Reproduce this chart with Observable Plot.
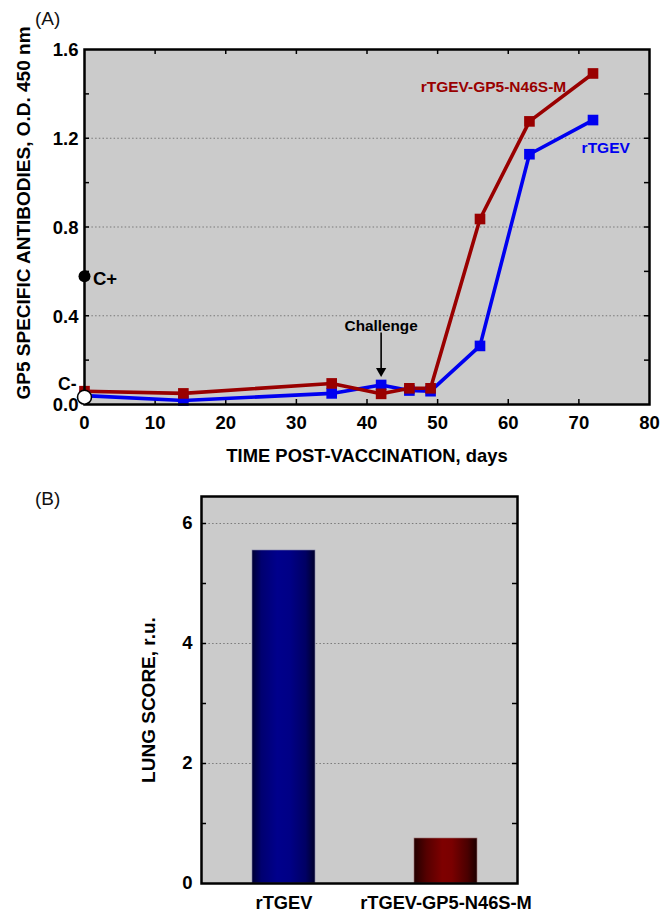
<!DOCTYPE html>
<html><head><meta charset="utf-8">
<script src="https://cdn.jsdelivr.net/npm/d3@7"></script>
<script src="https://cdn.jsdelivr.net/npm/@observablehq/plot@0.6"></script>
<style>
body{margin:0;background:#fff;font-family:"Liberation Sans",Arial,sans-serif;}
#wrap{position:relative;width:670px;height:913px;overflow:hidden;}
.panel{position:absolute;left:0;}
.tag{position:absolute;font-size:19px;color:#111;line-height:22px;}
</style></head><body>
<div id="wrap">
<div id="a" class="panel" style="top:0"></div>
<div id="b" class="panel" style="top:480px"></div>
<div class="tag" style="left:35px;top:8px">(A)</div>
<div class="tag" style="left:35px;top:488px">(B)</div>
</div>
<script>
// ---- Panel A data ----
const days = [0, 14, 35, 42, 46, 49, 56, 63, 72];
const rtgevOD = [0.04, 0.018, 0.05, 0.088, 0.063, 0.06, 0.264, 1.128, 1.282];
const mutantOD = [0.06, 0.05, 0.095, 0.048, 0.073, 0.073, 0.836, 1.276, 1.492];
const seriesNames = ["rTGEV", "rTGEV-GP5-N46S-M"];
const seriesColors = ["#0000f0", "#990000"];
const controlNames = ["C+", "C-"];
const controlOD = [0.578, 0.033];
const xTicksA = [0, 10, 20, 30, 40, 50, 60, 70, 80];
const yTicksA = [0, 0.4, 0.8, 1.2, 1.6];
const yMinorA = [0.2, 0.4, 0.6, 0.8, 1.0, 1.2, 1.4];
const gridA = [0.4, 0.8, 1.2];
const challengeDay = 42;
const xTitleA = "TIME POST-VACCINATION, days";
const yTitleA = "GP5 SPECIFIC ANTIBODIES, O.D. 450 nm";

// ---- Panel B data ----
const barNames = ["rTGEV", "rTGEV-GP5-N46S-M"];
const lungScore = [5.55, 0.75];
const yTicksB = [0, 2, 4, 6];
const yMinorB = [1, 2, 3, 4, 5, 6];
const gridB = [2, 4, 6];
const yTitleB = "LUNG SCORE, r.u.";

const FONT = '"Liberation Sans", Arial, Helvetica, sans-serif';
const W = 670;

// ---------- Panel A ----------
const HA = 480, mA = {top: 49, right: 21, bottom: 76, left: 84};
const fwA = W - mA.left - mA.right, fhA = HA - mA.top - mA.bottom;
const rtgevData = days.map((d, i) => ({day: d, od: rtgevOD[i]}));
const mutantData = days.map((d, i) => ({day: d, od: mutantOD[i]}));

const plotA = Plot.plot({
  width: W, height: HA,
  marginTop: mA.top, marginRight: mA.right, marginBottom: mA.bottom, marginLeft: mA.left,
  style: {fontFamily: FONT, fontWeight: "bold", fontSize: "18.5px", color: "black", background: "transparent", overflow: "visible"},
  x: {domain: [0, 80]},
  y: {domain: [0, 1.6]},
  marks: [
    Plot.frame({fill: "#cbcbcb"}),
    Plot.ruleY(gridA, {y: d => d, stroke: "#7a7a7a", strokeWidth: 1.2, strokeDasharray: "1.5,2.2"}),
    Plot.ruleY(yMinorA, {y: d => d, insetRight: fwA - 5, stroke: "black", strokeWidth: 1.5}),
    Plot.ruleY(yMinorA, {y: d => d, insetLeft: fwA - 5, stroke: "black", strokeWidth: 1.5}),
    Plot.ruleX(xTicksA.slice(1, -1), {x: d => d, insetTop: fhA - 5, stroke: "black", strokeWidth: 1.5}),
    Plot.ruleX(xTicksA.slice(1, -1), {x: d => d, insetBottom: fhA - 5, stroke: "black", strokeWidth: 1.5}),
    Plot.axisX({ticks: xTicksA, tickSize: 0, tickPadding: 11, label: null, fontSize: 18.5}),
    Plot.axisY({ticks: yTicksA, tickSize: 0, tickPadding: 6, tickFormat: d => d.toFixed(1), label: null, fontSize: 18.5, dy: 1}),
    Plot.text([xTitleA], {frameAnchor: "bottom", dy: 57, fontSize: 18.4, fontWeight: "bold"}),
    Plot.text([yTitleA], {frameAnchor: "left", textAnchor: "middle", rotate: -90, dx: -61, dy: -14, fontSize: 19, fontWeight: "bold"}),
    // challenge annotation
    Plot.text([challengeDay], {x: d => d, y: 0.352, text: () => "Challenge", fontSize: 15.3, fontWeight: "bold"}),
    Plot.ruleX([challengeDay], {x: d => d, y1: 0.322, y2: 0.16, stroke: "black", strokeWidth: 1.6}),
    Plot.dot([challengeDay], {x: d => d, y: 0.151, symbol: "triangle", rotate: 180, r: 3.8, fill: "black"}),
    // series
    Plot.line(rtgevData, {x: "day", y: "od", stroke: seriesColors[0], strokeWidth: 3.6}),
    Plot.line(mutantData, {x: "day", y: "od", stroke: seriesColors[1], strokeWidth: 3.6}),
    Plot.dot(rtgevData, {x: "day", y: "od", symbol: "square", r: 6, fill: seriesColors[0]}),
    Plot.dot(mutantData, {x: "day", y: "od", symbol: "square", r: 6, fill: seriesColors[1]}),
    Plot.text([seriesNames[1]], {x: 57.9, y: 1.431, fill: seriesColors[1], fontSize: 15.5, fontWeight: "bold"}),
    Plot.text([seriesNames[0]], {x: 73.8, y: 1.156, fill: seriesColors[0], fontSize: 15.5, fontWeight: "bold"}),
    Plot.frame({stroke: "black", strokeWidth: 2.5}),
    // controls
    Plot.dot([controlOD[0]], {x: 0, y: d => d, r: 6, fill: "black"}),
    Plot.dot([controlOD[1]], {x: 0, y: d => d, r: 7, fill: "white", stroke: "black", strokeWidth: 1.6}),
    Plot.text([controlNames[0]], {x: 0, y: 0.567, dx: 8.5, textAnchor: "start", fontSize: 18.5, fontWeight: "bold"}),
    Plot.text([controlNames[1]], {x: 0, y: 0.09, dx: -8, textAnchor: "end", fontSize: 17.5, fontWeight: "bold"})
  ]
});
document.getElementById("a").appendChild(plotA);

// ---------- Panel B ----------
const HB = 433, mB = {top: 16, right: 153, bottom: 30, left: 201};
const fwB = W - mB.left - mB.right;
const bars = barNames.map((n, i) => ({name: n, score: lungScore[i]}));

const plotB = Plot.plot({
  width: W, height: HB,
  marginTop: mB.top, marginRight: mB.right, marginBottom: mB.bottom, marginLeft: mB.left,
  style: {fontFamily: FONT, fontWeight: "bold", fontSize: "18.5px", color: "black", background: "transparent", overflow: "visible"},
  x: {domain: barNames, paddingInner: 0.61, paddingOuter: 0.28, align: 0.56},
  y: {domain: [0, 6.45]},
  marks: [
    Plot.frame({fill: "#cbcbcb"}),
    Plot.ruleY(gridB, {y: d => d, stroke: "#7a7a7a", strokeWidth: 1.2, strokeDasharray: "1.5,2.2"}),
    Plot.ruleY(yMinorB, {y: d => d, insetRight: fwB - 5, stroke: "black", strokeWidth: 1.5}),
    Plot.ruleY(yMinorB, {y: d => d, insetLeft: fwB - 5, stroke: "black", strokeWidth: 1.5}),
    Plot.barY(bars.filter(d => d.name === barNames[0]), {x: "name", y: "score", fill: "url(#gradBlue)", stroke: "#8080a8", strokeWidth: 0.6}),
    Plot.barY(bars.filter(d => d.name === barNames[1]), {x: "name", y: "score", fill: "url(#gradRed)", stroke: "#a07070", strokeWidth: 0.6}),
    Plot.axisX({tickSize: 0, tickPadding: 12, label: null, fontSize: 18.3}),
    Plot.axisY({ticks: yTicksB, tickSize: 0, tickPadding: 9, tickFormat: d => String(d), label: null, fontSize: 18.5}),
    Plot.text([yTitleB], {frameAnchor: "left", textAnchor: "middle", rotate: -90, dx: -53, dy: 10, fontSize: 19, fontWeight: "bold"}),
    Plot.frame({stroke: "black", strokeWidth: 2.5})
  ]
});
// gradients for the bars
(function addGradients(svg) {
  const NS = "http://www.w3.org/2000/svg";
  const defs = document.createElementNS(NS, "defs");
  const grads = {
    gradBlue: [[0, "#000034"], [0.15, "#000070"], [0.4, "#00008c"], [0.6, "#000086"], [0.85, "#000064"], [1, "#00002a"]],
    gradRed: [[0, "#220000"], [0.2, "#550000"], [0.45, "#7e0000"], [0.6, "#7a0000"], [0.85, "#4a0000"], [1, "#1c0000"]]
  };
  for (const [id, stops] of Object.entries(grads)) {
    const g = document.createElementNS(NS, "linearGradient");
    g.setAttribute("id", id);
    g.setAttribute("x1", "0"); g.setAttribute("x2", "1"); g.setAttribute("y1", "0"); g.setAttribute("y2", "0");
    for (const [o, c] of stops) {
      const s = document.createElementNS(NS, "stop");
      s.setAttribute("offset", o);
      s.setAttribute("stop-color", c);
      g.appendChild(s);
    }
    defs.appendChild(g);
  }
  svg.insertBefore(defs, svg.firstChild);
})(plotB);
document.getElementById("b").appendChild(plotB);
</script>
</body></html>
